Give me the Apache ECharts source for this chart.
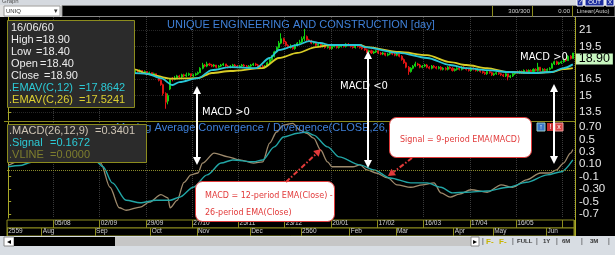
<!DOCTYPE html>
<html><head><meta charset="utf-8">
<script src="https://cdn.jsdelivr.net/npm/echarts@6/dist/echarts.min.js"></script>
<style>html,body{margin:0;padding:0;background:#000;}#c{width:615px;height:255px;}</style>
</head><body><div id="c"></div>
<script>
// [open, close, low, high] per trading day
const candles = [
[17.3,17.4,17.2,17.5],[17.4,17.5,17.3,17.6],[17.5,17.3,17.2,17.5],[17.3,17.6,17.3,17.7],[17.6,17.7,17.5,17.8],[17.7,17.6,17.5,17.8],[17.6,17.8,17.6,17.9],[17.8,17.9,17.7,18.0],[17.9,17.8,17.7,18.0],[17.8,18.0,17.8,18.1],
[18.0,18.1,17.9,18.2],[18.1,18.0,17.9,18.2],[18.0,18.2,18.0,18.3],[18.2,18.3,18.1,18.4],[18.3,18.1,18.0,18.3],[18.1,18.2,18.0,18.3],[18.2,18.4,18.2,18.5],[18.4,18.3,18.2,18.5],[18.3,18.5,18.3,18.6],[18.5,18.4,18.3,18.6],
[18.4,18.6,18.4,18.7],[18.6,18.5,18.4,18.7],[18.5,18.4,18.3,18.6],[18.4,18.6,18.3,18.7],[18.6,18.7,18.5,18.8],[18.7,18.5,18.4,18.7],[18.5,18.6,18.4,18.7],[18.6,18.4,18.3,18.6],[18.4,18.5,18.3,18.6],[18.5,18.3,18.2,18.5],
[18.3,18.4,18.2,18.5],[18.4,18.2,18.1,18.4],[18.2,18.3,18.1,18.4],[18.3,18.1,18.0,18.3],[18.1,17.9,17.8,18.1],[17.9,18.0,17.8,18.1],[18.0,17.7,17.6,18.0],[17.7,17.5,17.4,17.8],[17.5,17.2,17.1,17.5],[17.2,16.9,16.8,17.3],
[16.9,16.6,16.5,17.0],[16.6,16.2,16.1,16.7],[16.2,16.4,16.1,16.5],[16.4,16.0,15.9,16.5],[16.0,15.8,15.6,16.1],[15.8,16.1,15.7,16.2],[16.1,15.9,15.8,16.2],[15.9,16.2,15.8,16.3],[16.2,16.5,16.1,16.6],[16.5,16.4,16.3,16.6],
[16.4,16.7,16.4,16.8],[16.7,16.9,16.6,17.0],[16.9,17.0,16.8,17.1],[17.0,17.2,16.9,17.3],[17.2,17.1,17.0,17.3],[17.1,17.3,17.0,17.4],[17.3,17.2,17.1,17.4],[17.2,17.3,17.1,17.4],[17.3,17.1,17.0,17.3],[17.1,17.2,17.0,17.3],
[17.2,17.0,16.9,17.2],[17.0,17.1,16.9,17.2],[17.1,16.9,16.8,17.1],[16.9,17.0,16.8,17.1],[17.0,16.7,16.6,17.0],[16.7,16.4,16.3,16.8],[16.4,16.0,15.9,16.5],[16.0,15.2,15.0,16.1],[15.2,14.4,13.8,15.3],[14.5,15.0,14.2,15.2],
[15.6,16.5,15.5,16.6],[16.6,16.5,16.3,16.7],[16.5,16.6,16.4,16.8],[16.6,16.8,16.5,16.9],[16.8,16.7,16.6,16.9],[16.7,16.9,16.6,17.0],[16.9,16.8,16.7,17.0],[16.8,16.9,16.7,17.1],[16.9,17.0,16.8,17.1],[17.0,16.8,16.7,17.0],
[16.8,16.9,16.7,17.0],[16.9,17.0,16.8,17.1],[17.0,17.1,16.9,17.2],[17.1,17.5,17.1,17.6],[17.5,17.8,17.4,18.0],[17.8,17.7,17.6,17.9],[17.7,17.9,17.6,18.1],[17.9,17.8,17.7,18.0],[17.8,17.7,17.6,17.9],[17.7,17.8,17.6,17.9],
[17.8,17.6,17.5,17.8],[17.6,17.7,17.5,17.8],[17.7,17.8,17.6,17.9],[17.8,17.9,17.7,18.0],[17.9,17.7,17.6,17.9],[17.7,17.6,17.5,17.8],[17.6,17.7,17.5,17.8],[17.7,17.8,17.6,17.9],[17.8,17.7,17.6,17.9],[17.7,17.6,17.5,17.8],
[17.6,17.7,17.5,17.8],[17.7,17.8,17.6,17.9],[17.8,17.7,17.6,17.9],[17.7,17.6,17.5,17.8],[17.6,17.7,17.5,17.8],[17.7,17.8,17.6,17.9],[17.8,17.9,17.7,18.0],[17.9,17.8,17.7,18.0],[17.8,17.7,17.6,17.9],[17.7,17.6,17.5,17.8],
[17.7,17.6,17.5,17.8],[17.6,17.7,17.5,17.8],[17.7,18.0,17.7,18.1],[18.0,18.3,17.9,18.4],[18.3,18.6,18.2,18.7],[18.6,19.0,18.5,19.1],[19.0,19.4,18.9,19.5],[19.4,19.8,19.3,20.0],[19.8,20.2,19.7,20.7],[20.2,19.9,19.7,20.3],
[19.9,19.6,19.5,20.0],[19.6,19.4,19.3,19.7],[19.4,19.5,19.3,19.7],[19.5,19.3,19.2,19.6],[19.3,19.6,19.2,19.7],[19.6,19.8,19.5,19.9],[19.8,19.9,19.7,20.1],[19.9,20.2,19.8,20.4],[20.2,20.4,20.0,21.1],[20.4,20.1,20.0,20.5],
[20.1,20.0,19.9,20.2],[20.0,19.8,19.7,20.1],[19.8,19.9,19.7,20.0],[19.9,19.6,19.5,19.9],[19.6,19.7,19.5,19.8],[19.7,19.5,19.4,19.8],[19.5,19.6,19.4,19.7],[19.6,19.4,19.3,19.7],[19.4,19.5,19.3,19.6],[19.5,19.3,19.2,19.6],
[19.3,19.5,19.2,19.6],[19.5,19.6,19.4,19.7],[19.6,19.4,19.3,19.6],[19.4,19.5,19.3,19.6],[19.5,19.6,19.4,19.7],[19.6,19.5,19.4,19.7],[19.5,19.7,19.4,19.8],[19.7,19.6,19.5,19.8],[19.6,19.5,19.4,19.7],[19.5,19.4,19.3,19.6],
[19.4,19.6,19.3,19.7],[19.6,19.5,19.4,19.7],[19.5,19.4,19.3,19.6],[19.4,19.3,19.2,19.5],[19.3,19.2,19.1,19.4],[19.2,19.0,18.9,19.3],[19.0,19.1,18.9,19.2],[19.1,18.9,18.8,19.2],[18.9,19.0,18.8,19.1],[19.0,19.1,18.9,19.2],
[19.1,18.9,18.8,19.2],[18.9,18.8,18.7,19.0],[18.8,18.9,18.7,19.0],[18.9,18.7,18.6,18.9],[18.7,18.8,18.6,18.9],[18.8,18.9,18.7,19.0],[18.9,18.8,18.7,19.0],[18.8,18.7,18.6,18.9],[18.7,18.8,18.6,18.9],[18.8,18.6,18.5,18.8],
[18.6,18.3,18.2,18.7],[18.3,18.0,17.9,18.4],[18.0,17.6,17.5,18.1],[17.6,17.2,16.9,17.7],[17.2,17.5,17.1,17.6],[17.5,17.7,17.4,17.8],[17.7,17.9,17.6,18.1],[17.9,17.8,17.7,18.0],[17.8,17.6,17.5,17.9],[17.6,17.7,17.5,17.8],
[17.7,17.8,17.6,17.9],[17.8,17.6,17.5,17.9],[17.6,17.5,17.4,17.7],[17.5,17.7,17.4,17.8],[17.7,17.6,17.5,17.8],[17.6,17.5,17.4,17.7],[17.5,17.6,17.4,17.7],[17.6,17.4,17.3,17.7],[17.4,17.5,17.3,17.6],[17.5,17.4,17.3,17.6],
[17.4,17.6,17.3,17.7],[17.6,17.5,17.4,17.7],[17.5,17.3,17.2,17.6],[17.3,17.4,17.2,17.5],[17.4,17.5,17.3,17.6],[17.5,17.4,17.3,17.6],[17.4,17.6,17.3,17.7],[17.6,17.5,17.4,17.7],[17.5,17.4,17.3,17.6],[17.4,17.3,17.2,17.5],
[17.3,17.5,17.2,17.6],[17.5,17.4,17.3,17.6],[17.4,17.3,17.2,17.5],[17.3,17.4,17.2,17.5],[17.4,17.2,17.1,17.4],[17.2,17.1,17.0,17.3],[17.1,17.0,16.9,17.2],[17.0,17.2,16.9,17.3],[17.2,17.1,17.0,17.3],[17.1,16.9,16.8,17.2],
[16.9,17.0,16.8,17.1],[17.0,17.1,16.9,17.2],[17.1,17.0,16.9,17.2],[17.0,16.9,16.8,17.1],[16.9,16.8,16.7,17.0],[16.8,17.0,16.7,17.1],[17.0,16.7,16.4,17.0],[16.7,16.8,16.6,16.9],[16.8,17.0,16.7,17.1],[17.0,17.1,16.9,17.2],
[17.2,17.1,17.0,17.3],[17.1,17.2,17.0,17.3],[17.2,17.1,17.0,17.3],[17.1,17.3,17.0,17.4],[17.3,17.2,17.1,17.4],[17.2,17.3,17.1,17.4],[17.3,17.2,17.1,17.4],[17.2,17.4,17.1,17.5],[17.4,17.3,17.2,17.5],[17.3,17.6,17.2,18.0],
[17.6,17.3,17.2,17.6],[17.3,17.4,17.2,17.5],[17.4,17.3,17.2,17.5],[17.3,17.4,17.2,17.5],[17.4,17.5,17.3,17.6],[17.5,17.9,17.5,18.0],[17.9,18.1,17.8,18.2],[18.1,17.9,17.8,18.2],[17.9,18.0,17.8,18.1],[18.0,18.1,17.9,18.2],
[18.1,18.3,18.0,18.4],[18.3,18.2,18.1,18.4],[18.2,18.6,18.2,18.7],[18.6,18.4,18.3,18.7],[18.4,18.9,18.4,18.9]
];
// [day index, value]
const ema12Pts = [[0,17.4],[10,17.75],[20,18.2],[30,18.35],[36,18.1],[42,17.3],[48,16.7],[54,17.07],[60,17.0],[66,16.6],[71,15.97],[74,16.24],[82,16.6],[88,17.34],[96,17.61],[107,17.52],[113,18.44],[117,19.17],[125,19.63],[130,19.99],[135,19.81],[139,19.63],[152,19.63],[154,19.44],[169,18.9],[181,18.44],[191,17.8],[198,17.52],[207,17.34],[216,17.16],[227,17.07],[235,17.16],[240,17.52],[244,17.86]];
const ema26Pts = [[0,17.3],[10,17.55],[20,17.9],[30,18.1],[38,18.05],[45,17.65],[50,17.45],[54,17.42],[61,16.95],[70,16.55],[82,16.6],[88,17.07],[96,17.25],[110,17.52],[117,18.44],[125,18.9],[133,19.44],[139,19.63],[152,19.63],[155,19.44],[169,18.99],[181,18.71],[191,18.07],[198,17.8],[207,17.52],[216,17.16],[227,17.07],[235,17.16],[240,17.43],[244,17.52]];
const macdPts = [[0,0.08],[5,0.15],[10,0.24],[15,0.31],[20,0.37],[25,0.4],[30,0.36],[35,0.27],[40,0.12],[44,-0.27],[48,-0.6],[51,-0.64],[57,-0.59],[61,-0.51],[66,-0.39],[69,-0.44],[70,-0.6],[73,-0.48],[76,-0.19],[79,-0.07],[82,-0.04],[84,0.12],[89,0.28],[95,0.22],[100,0.17],[106,0.12],[110,0.14],[113,0.44],[116,0.62],[119,0.73],[123,0.76],[126,0.65],[129,0.6],[132,0.52],[135,0.33],[138,0.14],[140,0.06],[145,0.06],[149,0.06],[152,0.09],[155,0.01],[159,-0.04],[164,-0.12],[168,-0.23],[174,-0.27],[179,-0.23],[184,-0.2],[187,-0.36],[191,-0.43],[195,-0.38],[200,-0.31],[207,-0.35],[213,-0.23],[218,-0.27],[224,-0.15],[230,-0.04],[234,-0.04],[237,0.01],[240,0.12],[243,0.28],[244,0.34]];
const signalPts = [[0,0.06],[5,0.08],[10,0.13],[15,0.19],[20,0.25],[25,0.29],[30,0.28],[35,0.24],[38,0.15],[41,0.06],[45,-0.2],[51,-0.48],[57,-0.52],[64,-0.48],[70,-0.48],[74,-0.43],[80,-0.27],[86,-0.07],[92,0.12],[97,0.17],[106,0.14],[110,0.17],[115,0.38],[119,0.54],[125,0.6],[129,0.62],[132,0.57],[138,0.38],[143,0.22],[152,0.09],[158,0.01],[165,-0.12],[174,-0.2],[181,-0.2],[187,-0.27],[192,-0.36],[198,-0.35],[207,-0.33],[216,-0.27],[224,-0.19],[233,-0.07],[239,-0.02],[244,0.17]];
const priceTicks = [13.5, 15, 16.5, 19.5, 21];
const macdTicks = [-0.7, -0.5, -0.3, -0.1, 0.1, 0.3, 0.5, 0.7];
const macdTickLabels = ['-0.7', '-0.5', '-0.30', '-0.1', '0.10', '0.3', '0.5', '0.70'];
const dateTicks = [[20,'05/08'],[40,'02/09'],[60,'29/09'],[80,'27/10'],[100,'25/11'],[120,'23/12'],[140,'20/01'],[160,'17/02'],[180,'16/03'],[200,'17/04'],[220,'16/05'],[240,'']];
const monthTicks = [[0,'2559'],[15,'Aug'],[38,'Sep'],[62,'Oct'],[82,'Nov'],[105,'Dec'],[127,'2560'],[148,'Feb'],[168,'Mar'],[193,'Apr'],[210,'May'],[233,'Jun']];
const lastInfo = {date:'16/06/60', high:'18.90', low:'18.40', open:'18.40', close:'18.90', ema12:'17.8642', ema26:'17.5241', macd:'0.3401', signal:'0.1672', vline:'0.0000'};

const N = candles.length;
const categories = candles.map((_, i) => String(i));
const dateMap = new Map(dateTicks);
const monthMap = new Map(monthTicks);
const lastClose = candles[N - 1][1];

const OLIVE = '#8c8c1e';
const FONT = '"Liberation Sans", Arial, sans-serif';
const chart = echarts.init(document.getElementById('c'), null, {renderer: 'canvas'});

function txt(x, y, text, fill, size, extra) {
  return {type: 'text', x: x, y: y, z: 60, style: Object.assign({text: text, fill: fill, font: size + 'px ' + FONT, align: 'left', verticalAlign: 'middle', textAlign: 'left', textVerticalAlign: 'middle'}, extra || {})};
}
function rect(x, y, w, h, fill, stroke, z, r) {
  return {type: 'rect', z: z, shape: {x: x, y: y, width: w, height: h, r: r || 0}, style: {fill: fill, stroke: stroke || null, lineWidth: 1}};
}
function line(x1, y1, x2, y2, stroke, w, z, dash) {
  return {type: 'line', z: z, shape: {x1: x1, y1: y1, x2: x2, y2: y2}, style: {stroke: stroke, lineWidth: w, lineDash: dash || null}};
}
function poly(points, fill, z) {
  return {type: 'polygon', z: z, shape: {points: points}, style: {fill: fill}};
}
function whiteArrow(x, top, bot) {
  return [
    line(x, top + 5, x, bot - 5, '#ffffff', 2, 62),
    poly([[x, top], [x - 4, top + 8], [x + 4, top + 8]], '#ffffff', 62),
    poly([[x, bot], [x - 4, bot - 8], [x + 4, bot - 8]], '#ffffff', 62)
  ];
}
const ANN = '"DejaVu Sans", sans-serif';
const RED = '#e23a3a';
const INFO = 11;

const graphics = [].concat(
  // top chrome
  [rect(0, 0, 615, 6, '#d5d9df', null, 5),
   txt(2, 1, 'Graph', '#555', 6, {}),
   rect(0, 5, 615, 12, '#e2e2e2', null, 5),
   rect(4, 6, 56, 10, '#ffffff', '#9a9a9a', 6),
   txt(6, 11, 'UNIQ', '#333', 6),
   txt(54, 11, '▾', '#333', 7),
   rect(62, 5.5, 553, 11, '#000000', '#888', 6),
   line(492.5, 6, 492.5, 17, OLIVE, 1, 7), line(532.5, 6, 532.5, 17, OLIVE, 1, 7), line(572.5, 6, 572.5, 17, OLIVE, 1, 7),
   txt(530, 11.5, '300/300', '#cfcfcf', 6, {align: 'right', textAlign: 'right'}),
   txt(570, 11.5, '0.00', '#cfcfcf', 6, {align: 'right', textAlign: 'right'}),
   txt(593, 11.5, 'Linear(Auto)', '#cfcfcf', 6, {align: 'center', textAlign: 'center'}),
   rect(577, -4, 6, 10, '#1c2c9c', '#ffffff', 8), txt(580, 2, '?', '#fff', 7, {align: 'center', textAlign: 'center'}),
   rect(585, -4, 19, 10, '#1c2c9c', '#ffffff', 8), txt(594.5, 2, 'OUT', '#fff', 6, {align: 'center', textAlign: 'center'}),
   rect(606, -4, 8, 10, '#1c2c9c', '#ffffff', 8), txt(610, 2, 'X', '#fff', 6, {align: 'center', textAlign: 'center'})],
  // frame lines
  [line(4, 121.5, 575, 121.5, OLIVE, 1, 7),
   line(575.5, 17, 575.5, 236, '#a8a828', 1, 7)],
  // bottom chrome
  [rect(0, 236, 615, 19, '#d8dde3', null, 5),
   rect(4, 237, 10, 9, '#ffffff', '#888', 6), txt(9, 241.5, '◂', '#000', 8, {align: 'center', textAlign: 'center'}),
   rect(14, 237, 101, 9, '#000000', null, 6),
   rect(115, 237, 356, 9, '#c6c6c6', null, 6),
   rect(471, 237, 8, 9, '#ffffff', '#888', 6), txt(475, 241.5, '▸', '#000', 8, {align: 'center', textAlign: 'center'}),
   txt(482, 241.5, '|', '#333', 7),
   txt(486, 241.5, 'F-', '#c8b400', 8, {font: 'bold 8px ' + FONT}),
   txt(499, 241.5, 'F-', '#c8b400', 8, {font: 'bold 8px ' + FONT}),
   txt(512, 241.5, '|', '#333', 7),
   txt(517, 241.5, 'FULL', '#333', 6, {font: 'bold 6px ' + FONT}),
   txt(536, 241.5, '|', '#333', 7),
   txt(543, 241.5, '1Y', '#333', 6, {font: 'bold 6px ' + FONT}),
   txt(556, 241.5, '|', '#333', 7),
   txt(562, 241.5, '6M', '#333', 6, {font: 'bold 6px ' + FONT}),
   txt(581, 241.5, '|', '#333', 7),
   txt(590, 241.5, '3M', '#333', 6, {font: 'bold 6px ' + FONT}),
   txt(608, 241.5, '|', '#333', 7)],
  // titles
  [Object.assign(txt(167, 24.5, 'UNIQUE ENGINEERING AND CONSTRUCTION [day]', '#3f80d8', 11), {z: 40}),
   Object.assign(txt(116, 127.5, 'Moving Average Convergence / Divergence(CLOSE,26,12,9)', '#3f80d8', 11), {z: 40})],
  // MACD panel icons
  [rect(537, 123, 8, 8, '#3a78c8', '#9cc', 45), txt(541, 127.5, '↑', '#fff', 7, {align: 'center', textAlign: 'center'}),
   rect(547, 123, 7, 8, '#c83030', null, 45), txt(550.5, 127.5, '!', '#fff', 7, {align: 'center', textAlign: 'center'}),
   rect(555, 123, 8, 8, '#d84848', '#f0a0a0', 45), txt(559, 127.5, 'x', '#fff', 7, {align: 'center', textAlign: 'center'})],
  // info box price
  [rect(7.5, 20.5, 127, 87, '#2b2b2b', OLIVE, 50),
   txt(11, 27.5, lastInfo.date, '#ececec', INFO),
   txt(11, 39.5, 'High', '#ececec', INFO), txt(36, 39.5, '=' + lastInfo.high, '#ececec', INFO),
   txt(11, 51.5, 'Low', '#ececec', INFO), txt(36, 51.5, '=' + lastInfo.low, '#ececec', INFO),
   txt(11, 63.5, 'Open', '#ececec', INFO), txt(40, 63.5, '=' + lastInfo.open, '#ececec', INFO),
   txt(11, 75.5, 'Close', '#ececec', INFO), txt(44, 75.5, '=' + lastInfo.close, '#ececec', INFO),
   txt(9, 87.5, '.EMAV(C,12)', '#2ccad6', INFO), txt(79, 87.5, '=' + lastInfo.ema12, '#2ccad6', INFO),
   txt(9, 99.5, '.EMAV(C,26)', '#dccf30', INFO), txt(79, 99.5, '=' + lastInfo.ema26, '#dccf30', INFO)],
  // info box MACD
  [rect(7.5, 124.5, 139, 38, '#2b2b2b', OLIVE, 50),
   txt(9, 130.5, '.MACD(26,12,9)', '#cfc5b5', INFO), txt(95, 130.5, '=' + lastInfo.macd, '#cfc5b5', INFO),
   txt(9, 142.5, '.Signal', '#2ccad6', INFO), txt(50, 142.5, '=' + lastInfo.signal, '#2ccad6', INFO),
   txt(9, 154.5, '.VLINE', '#7e7e2e', INFO), txt(50, 154.5, '=' + lastInfo.vline, '#7e7e2e', INFO)],
  // white arrows and labels
  whiteArrow(197, 86, 165), whiteArrow(368, 51, 168), whiteArrow(554, 84, 164),
  [Object.assign(txt(202, 112, 'MACD >0', '#ffffff', 10, {font: '10px ' + ANN}), {z: 63}),
   Object.assign(txt(340, 86.5, 'MACD <0', '#ffffff', 10, {font: '10px ' + ANN}), {z: 63}),
   Object.assign(txt(520, 57.5, 'MACD >0', '#ffffff', 10, {font: '10px ' + ANN}), {z: 63})],
  // annotation boxes
  [rect(195.5, 181.5, 139, 40, '#ffffff', RED, 70, 7),
   Object.assign(txt(205, 195.5, 'MACD = 12-period EMA(Close) -', RED, 8, {font: '8px ' + ANN}), {z: 71}),
   Object.assign(txt(205, 212.5, '26-period EMA(Close)', RED, 8, {font: '8px ' + ANN}), {z: 71}),
   rect(389.5, 117.5, 142, 40, '#ffffff', RED, 70, 7),
   Object.assign(txt(460, 139.5, 'Signal = 9-period EMA(MACD)', RED, 8, {font: '8px ' + ANN, align: 'center', textAlign: 'center'}), {z: 71}),
   line(286, 182, 316, 154, RED, 2, 72, [5, 2, 1.5, 2]),
   poly([[321, 149], [318.7, 156.7], [313.2, 150.9]], RED, 72),
   line(412, 158, 393.7, 172, RED, 2, 72, [5, 2, 1.5, 2]),
   poly([[388, 176], [396, 175.3], [391.4, 168.7]], RED, 72)]
);

const catAxisBase = {
  type: 'category', data: categories, boundaryGap: true,
  axisLine: {show: false}, axisTick: {show: false}, axisLabel: {show: false}
};
const sepInterval = (i) => dateMap.has(i);

const option = {
  animation: false,
  backgroundColor: '#000000',
  grid: [
    {left: 7, width: 567, top: 17, height: 103},
    {left: 7, width: 567, top: 122, height: 96},
    {left: 7, width: 567, top: 220, height: 8, show: true, borderColor: OLIVE, borderWidth: 1, backgroundColor: '#000'},
    {left: 7, width: 567, top: 228, height: 8, show: true, borderColor: OLIVE, borderWidth: 1, backgroundColor: '#000'}
  ],
  xAxis: [
    Object.assign({}, catAxisBase, {gridIndex: 0, splitLine: {show: true, interval: sepInterval, lineStyle: {color: '#3a3a3a', type: 'dotted'}}}),
    Object.assign({}, catAxisBase, {gridIndex: 1, splitLine: {show: true, interval: sepInterval, lineStyle: {color: '#3a3a3a', type: 'dotted'}}}),
    {type: 'value', gridIndex: 0, min: -0.5, max: N - 0.5, show: false},
    {type: 'value', gridIndex: 1, min: -0.5, max: N - 0.5, show: false},
    Object.assign({}, catAxisBase, {gridIndex: 2,
      splitLine: {show: true, interval: sepInterval, lineStyle: {color: OLIVE, width: 1}},
      axisLabel: {show: true, inside: true, interval: (i) => dateMap.has(i), formatter: (v, i) => dateMap.get(i) || '', color: '#cfcfcf', fontSize: 6.5, fontFamily: FONT, align: 'left', margin: 1}}),
    Object.assign({}, catAxisBase, {gridIndex: 3,
      splitLine: {show: true, interval: (i) => monthMap.has(i), lineStyle: {color: OLIVE, width: 1}},
      axisLabel: {show: true, inside: true, interval: (i) => monthMap.has(i), formatter: (v, i) => monthMap.get(i) || '', color: '#cfcfcf', fontSize: 6.5, fontFamily: FONT, align: 'left', margin: 1}})
  ],
  yAxis: [
    {type: 'value', gridIndex: 0, position: 'right', min: 12.77, max: 22.19,
     axisLine: {show: true, lineStyle: {color: '#a8a828'}},
     axisTick: {show: true, length: 3, customValues: priceTicks, lineStyle: {color: '#a8a828'}},
     axisLabel: {customValues: priceTicks, color: '#e8e8e8', fontSize: 11.5, fontFamily: FONT, margin: 5, formatter: (v) => String(v)},
     splitLine: {show: true, lineStyle: {color: '#262626', type: 'dotted'}}},
    {type: 'value', gridIndex: 1, position: 'right', min: -0.765, max: 0.781,
     axisLine: {show: true, lineStyle: {color: '#a8a828'}},
     axisTick: {show: true, length: 3, customValues: macdTicks, lineStyle: {color: '#a8a828'}},
     axisLabel: {customValues: macdTicks, color: '#e8e8e8', fontSize: 11.5, fontFamily: FONT, margin: 5,
       formatter: (v) => { const k = macdTicks.findIndex(t => Math.abs(t - v) < 1e-6); return k >= 0 ? macdTickLabels[k] : ''; }},
     splitLine: {show: false}},
    {type: 'value', gridIndex: 2, show: false},
    {type: 'value', gridIndex: 3, show: false}
  ],
  series: [
    {type: 'candlestick', name: 'Price', xAxisIndex: 0, yAxisIndex: 0, data: candles, barWidth: '65%',
     itemStyle: {color: '#12d012', color0: '#e01414', borderColor: '#12d012', borderColor0: '#e01414', borderWidth: 1}},
    {type: 'line', name: 'EMAV(C,26)', xAxisIndex: 2, yAxisIndex: 0, data: ema26Pts, showSymbol: false, smooth: 0.3, smoothMonotone: 'x',
     lineStyle: {color: '#d8cc26', width: 1.8},
     markPoint: {symbol: 'rect', symbolSize: [37, 11], symbolOffset: [21.5, 6], silent: true,
       itemStyle: {color: '#c8f7c0'},
       label: {show: true, color: '#000', fontSize: 12.5, fontFamily: FONT, formatter: lastClose.toFixed(2)},
       data: [{coord: [N - 1, lastClose]}]}},
    {type: 'line', name: 'EMAV(C,12)', xAxisIndex: 2, yAxisIndex: 0, data: ema12Pts, showSymbol: false, smooth: 0.3, smoothMonotone: 'x',
     lineStyle: {color: '#28c6d6', width: 1.8}},
    {type: 'line', name: 'MACD', xAxisIndex: 3, yAxisIndex: 1, data: macdPts, showSymbol: false, smooth: 0.3, smoothMonotone: 'x',
     lineStyle: {color: '#9e8a6c', width: 1.3},
     markLine: {silent: true, symbol: 'none', label: {show: false}, lineStyle: {color: '#8a8a2a', type: 'dotted', width: 1}, data: [{yAxis: 0}]}},
    {type: 'line', name: 'Signal', xAxisIndex: 3, yAxisIndex: 1, data: signalPts, showSymbol: false, smooth: 0.3, smoothMonotone: 'x',
     lineStyle: {color: '#22a6a6', width: 1.4}}
  ],
  graphic: {elements: graphics}
};
chart.setOption(option);
</script>
</body></html>
